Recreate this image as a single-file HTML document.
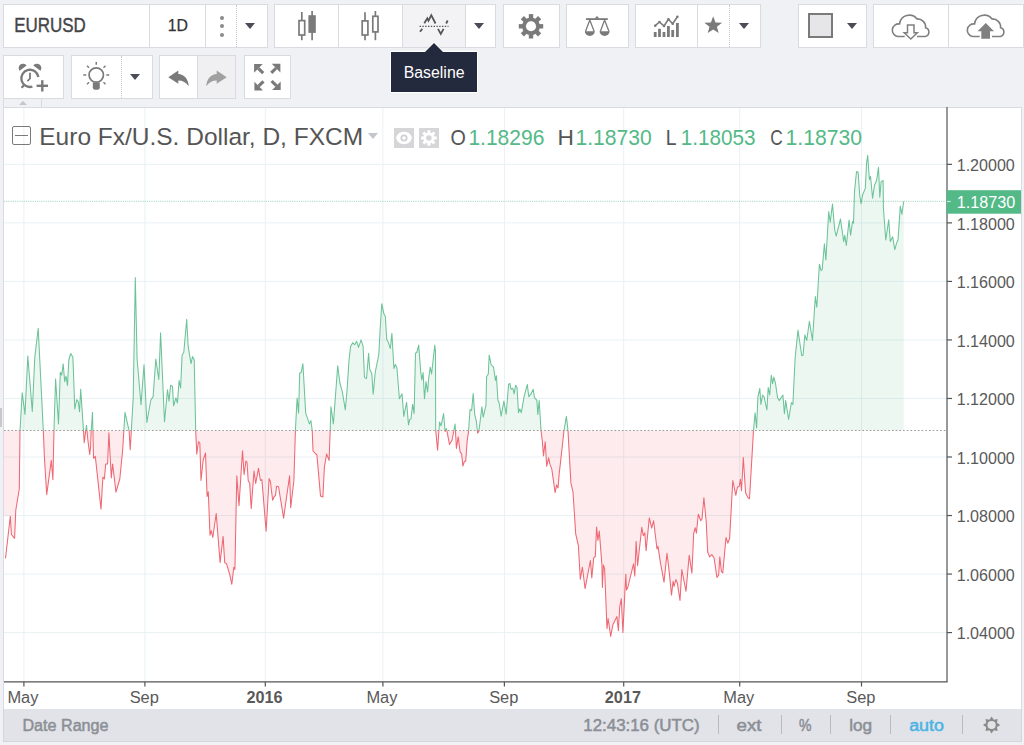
<!DOCTYPE html>
<html><head><meta charset="utf-8"><style>
html,body{margin:0;padding:0;}
body{width:1024px;height:745px;background:#f0f1f5;overflow:hidden;position:relative;font-family:"Liberation Sans",sans-serif;}
.b{position:absolute;background:#fff;border:1px solid #d9dbe0;box-sizing:border-box;}
.sep{position:absolute;top:0;bottom:0;width:1px;background:#d9dbe0;}
.dsep{position:absolute;top:0;bottom:0;width:0;border-left:1px dotted #c5c7cc;}
.tri{position:absolute;width:0;height:0;border-left:5.5px solid transparent;border-right:5.5px solid transparent;border-top:6px solid #4a4c57;}
</style></head><body>
<div class="b" style="left:3px;top:4px;width:265px;height:44px">
  <div class="sep" style="left:145px"></div>
  <div class="sep" style="left:201px"></div>
  <div style="position:absolute;left:216px;top:10.5px;width:4.2px;height:4.2px;border-radius:50%;background:#8a8a8a"></div>
  <div style="position:absolute;left:216px;top:19.3px;width:4.2px;height:4.2px;border-radius:50%;background:#8a8a8a"></div>
  <div style="position:absolute;left:216px;top:28.2px;width:4.2px;height:4.2px;border-radius:50%;background:#8a8a8a"></div>
  <div class="dsep" style="left:232px"></div>
  <div class="tri" style="left:241px;top:18px"></div>
</div>
<div class="b" style="left:274px;top:4px;width:222px;height:44px">
  <div class="sep" style="left:63px"></div>
  <div style="position:absolute;left:128px;top:0;width:63px;bottom:0;background:#f3f3f5"></div>
  <div class="sep" style="left:127px"></div>
  <div class="sep" style="left:190px"></div>
  <div class="tri" style="left:199px;top:18px"></div>
</div>
<div class="b" style="left:503px;top:4px;width:57px;height:44px"></div>
<div class="b" style="left:566px;top:4px;width:63px;height:44px"></div>
<div class="b" style="left:635px;top:4px;width:126px;height:44px">
  <div class="sep" style="left:61px"></div>
  <div class="dsep" style="left:93px"></div>
  <div class="tri" style="left:102.5px;top:18px"></div>
</div>
<div class="b" style="left:798px;top:4px;width:69px;height:44px">
  <div style="position:absolute;left:9px;top:8px;width:25px;height:25px;box-sizing:border-box;border:2px solid #7a7a7a;background:#e6e6e8"></div>
  <div class="tri" style="left:48px;top:18px"></div>
</div>
<div class="b" style="left:873px;top:4px;width:151px;height:44px">
  <div class="sep" style="left:74px"></div>
</div>
<div class="b" style="left:3px;top:55px;width:61px;height:44px"></div>
<div class="b" style="left:71px;top:55px;width:82px;height:44px">
  <div class="dsep" style="left:49px"></div>
  <div class="tri" style="left:58px;top:18px"></div>
</div>
<div class="b" style="left:159px;top:55px;width:77px;height:44px">
  <div style="position:absolute;left:38px;top:0;right:0;bottom:0;background:#f0f0f2"></div>
  <div class="sep" style="left:37px"></div>
</div>
<div class="b" style="left:244px;top:55px;width:47px;height:44px"></div>
<div style="position:absolute;left:3px;top:98px;width:1px;height:10px;background:#d9dbe0"></div>
<div style="position:absolute;left:41px;top:98px;width:1px;height:9px;background:#d9dbe0"></div>
<div style="position:absolute;left:19px;top:101px;width:0;height:0;border-left:4px solid transparent;border-right:4px solid transparent;border-bottom:4px solid #c4c6cb"></div>
<div style="position:absolute;left:3px;top:107px;width:1019px;height:602px;background:#fff;border-left:1px solid #d9dbe0;border-top:1px solid #d9dbe0;border-right:1px solid #d9dbe0;box-sizing:border-box"></div>
<div style="position:absolute;left:0;top:408px;width:2px;height:19px;background:#c8c8c8"></div>
<div style="position:absolute;left:3px;top:709px;width:1019px;height:33px;background:#e2e3e8;border-left:1px solid #d4d6db;border-bottom:1px solid #d4d6db;border-right:1px solid #d4d6db;box-sizing:border-box">
  <div class="sep" style="left:714px;top:6px;bottom:7px;background:#b8bac0"></div>
  <div class="sep" style="left:777px;top:6px;bottom:7px;background:#b8bac0"></div>
  <div class="sep" style="left:826px;top:6px;bottom:7px;background:#b8bac0"></div>
  <div class="sep" style="left:886px;top:6px;bottom:7px;background:#b8bac0"></div>
  <div class="sep" style="left:958px;top:6px;bottom:7px;background:#b8bac0"></div>
</div>
<svg width="1024" height="745" style="position:absolute;left:0;top:0">
<defs><clipPath id="up"><rect x="0" y="0" width="947" height="430.5"/></clipPath><clipPath id="dn"><rect x="0" y="430.5" width="947" height="400"/></clipPath></defs>
<line x1="4" x2="947" y1="164.35" y2="164.35" stroke="#e9f1f4" stroke-width="1"/>
<line x1="4" x2="947" y1="222.88" y2="222.88" stroke="#e9f1f4" stroke-width="1"/>
<line x1="4" x2="947" y1="281.41" y2="281.41" stroke="#e9f1f4" stroke-width="1"/>
<line x1="4" x2="947" y1="339.94" y2="339.94" stroke="#e9f1f4" stroke-width="1"/>
<line x1="4" x2="947" y1="398.47" y2="398.47" stroke="#e9f1f4" stroke-width="1"/>
<line x1="4" x2="947" y1="457.00" y2="457.00" stroke="#e9f1f4" stroke-width="1"/>
<line x1="4" x2="947" y1="515.53" y2="515.53" stroke="#e9f1f4" stroke-width="1"/>
<line x1="4" x2="947" y1="574.06" y2="574.06" stroke="#e9f1f4" stroke-width="1"/>
<line x1="4" x2="947" y1="632.59" y2="632.59" stroke="#e9f1f4" stroke-width="1"/>
<line x1="23.9" x2="23.9" y1="108" y2="682" stroke="#e9f1f4" stroke-width="1"/>
<line x1="144.9" x2="144.9" y1="108" y2="682" stroke="#e9f1f4" stroke-width="1"/>
<line x1="265.3" x2="265.3" y1="108" y2="682" stroke="#e9f1f4" stroke-width="1"/>
<line x1="382.9" x2="382.9" y1="108" y2="682" stroke="#e9f1f4" stroke-width="1"/>
<line x1="504.4" x2="504.4" y1="108" y2="682" stroke="#e9f1f4" stroke-width="1"/>
<line x1="623.7" x2="623.7" y1="108" y2="682" stroke="#e9f1f4" stroke-width="1"/>
<line x1="739.7" x2="739.7" y1="108" y2="682" stroke="#e9f1f4" stroke-width="1"/>
<line x1="861.5" x2="861.5" y1="108" y2="682" stroke="#e9f1f4" stroke-width="1"/>
<path d="M4 430.5 L4 516.2 L10.3 516.2 L11.4 534.5 L14.6 538.3 L15.8 510 L19.3 489 L20 430.8 L22.2 392.7 L25 414.4 L27.8 356 L32.3 411.6 L34.8 357 L38.2 328.2 L43.3 430.4 L44.4 457 L46.7 494.6 L51.3 460.4 L52.9 479.8 L54 429.6 L55.6 378.9 L58.5 424 L60.3 372.3 L61.7 375.1 L63.2 363.9 L64.7 381.7 L66 376 L67.5 385.5 L68.8 360 L70.7 353.5 L72.9 357.3 L74.8 409 L76.7 399.6 L78.2 401.5 L79.5 411.8 L80.7 389.2 L83.5 430.6 L84.2 442.8 L86.5 425.4 L87.8 439.5 L89.7 454.5 L90.6 447 L91.2 431 L92.5 412.2 L93.5 458.3 L95.3 456.4 L101 509.1 L102.9 477.1 L104.4 479 L105.7 464 L107.6 464 L108.9 432.9 L111.3 478 L112.6 464 L116 492.2 L119.8 479 L122.6 450.8 L125 412.4 L129.1 430.8 L130.2 449.8 L131.4 429.7 L133.2 397.8 L135.3 277.5 L137.1 359 L141 404.6 L144 364.7 L146.9 422.4 L150.8 400 L153.1 396.6 L155.8 359 L158.8 379.5 L160.6 332.7 L164.5 421.7 L167.5 389.8 L169 401.2 L170.6 385.2 L172.5 386.4 L173.6 405.8 L175.9 397.8 L177.4 403 L179.1 380.5 L180.6 388 L182.1 355.1 L183.8 352.3 L186.7 319.4 L188.2 346.7 L191 363.6 L192.5 356.6 L194.2 359.8 L195.7 430.4 L196.8 454.2 L198.4 441.7 L199.8 442.8 L201 480.5 L203.2 460 L205.5 453.1 L207.1 496.4 L208.3 491.9 L210 535.2 L211.2 530.7 L212.8 537.5 L216.2 513.5 L220.1 562.6 L223.1 536.4 L224.7 562.6 L226.5 563.7 L229.9 575.1 L231.8 584.3 L233.8 567.2 L234.9 569.4 L236.8 475.9 L239 505.6 L242.5 450.8 L244.1 474.8 L245.9 461 L247 462.2 L248.2 480.5 L249.7 483.4 L251.2 508.7 L254 471.1 L255.7 483.4 L258.5 468.3 L260.4 480.5 L261.9 479.6 L266.1 531.3 L269.1 478.6 L270.4 481.5 L272.6 500.3 L274.2 496.5 L275.5 495.6 L276.6 486.2 L278.5 486.7 L283.6 518.1 L289.6 475.8 L290.7 507.8 L293.9 480.5 L295.4 430.5 L297.1 398.1 L298.6 413.1 L299.7 373.3 L301.2 372.3 L302.9 363.7 L305.7 413.1 L309.4 423.9 L310.9 420.6 L312.2 430.3 L313 450.8 L315.8 454 L316.9 455 L320.5 495.9 L322.9 497 L324.4 466.9 L326.6 454 L329.1 460.4 L330.2 430.3 L330.9 406.7 L333.4 423.9 L337.7 365.8 L339.9 383 L342.3 391.6 L345.3 409.9 L347 390.7 L349 360.5 L350.6 346.4 L352.7 342.7 L354.7 344.8 L356.7 341.3 L358.5 347.4 L361.1 339.9 L363.1 346.4 L364.5 377.6 L366.5 378.6 L368.6 353.4 L369.8 369.5 L371.8 373.6 L373.2 394.3 L375.2 372.5 L378.8 354.4 L380.2 328.3 L381.8 303.7 L383.9 313.8 L385.3 316.2 L386.7 339.3 L388.3 342.3 L390.3 348.4 L391.9 333.3 L393.9 368.5 L395.3 364.5 L396.9 367.5 L399.4 398.7 L402 393.7 L403.8 416.4 L406.6 402.3 L408.5 424.9 L409.8 419.2 L411 419 L412.6 404.2 L414.1 413.6 L415.5 353.2 L416.8 352.5 L418.7 345.1 L420.8 372.6 L421.8 380 L423.1 372.6 L424.5 398.6 L426 381.6 L427.6 392 L428.5 380 L430.2 367.2 L431.6 374 L434.8 345.1 L435.5 352 L435.7 430.5 L437.6 450.3 L439.5 422 L441 425.8 L443.6 413.6 L445.1 431.5 L446.5 428.6 L449.5 444.6 L452.1 440 L455.1 424 L456.4 448.4 L458.2 436.9 L460.1 451.9 L461.6 453.8 L462.9 466 L464.4 461.3 L465.7 461.3 L467.2 440.6 L468.5 432.2 L470 409.6 L471.6 410.5 L473.2 393.6 L474.7 414.3 L476.3 420.9 L477.6 433.1 L478.9 431.2 L481.9 406.8 L483.2 417.1 L486 404.9 L486.6 376.7 L488.3 373.9 L489.2 355 L491.1 364.5 L493.6 367.3 L495.4 380.4 L496.4 375.7 L497.9 400.2 L499.2 403 L501.1 416.2 L503.9 401.1 L506.2 414.3 L508.6 384.2 L510 383.5 L510.9 389.2 L512.8 388.2 L514.1 393.9 L515.6 385.4 L517 387.3 L518.5 412.7 L519.8 408.9 L521.3 412.7 L524.1 396.7 L527.3 384.5 L528.8 396.7 L531.1 393.9 L533.1 389.2 L534.5 397.6 L536.9 400.4 L537.8 414.5 L539.2 400.4 L541 430.5 L542.3 440.9 L543.5 455.9 L545.2 441.8 L546.7 466.3 L548.6 457.8 L550 464.4 L551.8 469.1 L555.1 492.6 L556.6 485.1 L558 487.9 L559.3 472.8 L560.4 463.4 L564 430.5 L566.4 416.4 L568 430.5 L569 449.4 L570.9 482.9 L573 492.2 L575.7 533.8 L578.4 545.8 L580.3 579.3 L582.4 567.2 L585.1 588.7 L590.4 560.5 L591.8 578 L593.7 557.9 L595.3 556.5 L596.6 527.1 L597.9 540.5 L599.3 531.1 L601.9 564.9 L602.4 587.5 L603.4 564.9 L604.6 568.6 L607 628.8 L608.1 618.5 L610.7 636.4 L612.8 625.1 L616.9 616.6 L618.4 630.7 L619.7 607.2 L621.3 598.7 L622.9 632.6 L624.8 593.1 L625.8 574.3 L626.5 590 L627.8 587.5 L633.5 563.9 L634.8 576.2 L636.1 541.4 L637.6 565.8 L641.8 527.3 L643.3 535.7 L644.8 532.9 L646.1 550.8 L649.3 517.9 L651.7 528.2 L653.6 520.7 L657 549 L658 546.3 L660.2 561.3 L664 582.2 L667 553.3 L669.3 572.6 L671.5 595.1 L673.1 581.2 L674.1 586.5 L675.8 579.5 L677.4 583.3 L680 600.5 L681.8 569.5 L686 591.3 L689.2 555.3 L691.9 573.2 L693.7 533.5 L695.2 527.7 L696.4 533.2 L698.3 514.2 L700.7 520.8 L702 518.9 L703.9 497.8 L706.2 521.7 L707.7 552.3 L709.6 556.9 L711.8 554.6 L714.1 558 L716.9 577.4 L718.7 575.1 L719.8 556.9 L721.4 571.7 L722.8 572.9 L726 537.5 L727.8 543.2 L729.6 538.6 L732.8 480.5 L735.8 495.3 L737.4 487.3 L739.2 486.2 L740.4 479.3 L741.5 490.7 L743.3 457.6 L745.6 493 L747.9 497.6 L749.5 498.7 L753.5 430.5 L755.1 412.8 L756.6 427.9 L757.9 396.9 L759.8 388.4 L760.9 404.4 L762.6 395 L764.1 396.9 L766.9 410 L768.2 387.5 L769.7 395 L771.3 375.2 L772.6 383.7 L773.9 377.1 L775.4 382.8 L777.6 397.8 L779.2 400.6 L782.9 395 L784.4 413.8 L785.7 400.6 L788.6 419.4 L791.4 402.5 L792.9 404.4 L795.1 358.3 L798 330.1 L801.7 355.5 L803 355.5 L804.9 334.8 L806.7 340.5 L809.4 321.4 L812.5 340.5 L815.3 296.5 L816.8 307.2 L819.4 264.2 L821.1 270.6 L822.2 269.5 L824.4 243.8 L825.9 259.9 L828.7 211.5 L830.2 222.3 L832.5 204 L834.7 229.8 L836.2 236.2 L840.5 219 L843.7 241.6 L844.8 235.2 L846.3 245.5 L849.1 220.1 L850.6 235.2 L852.5 221.5 L853.5 223.1 L854.5 191.6 L856.5 171.5 L858.1 172.3 L859.7 194.8 L861 203.7 L862.6 194.8 L865.3 188.4 L866.6 162.6 L867.7 155.3 L869.4 179.5 L870.5 176.3 L872.6 198.1 L874.5 185.2 L876.6 180.3 L878.5 167.4 L879.8 197.3 L881.1 181.9 L883.1 180.3 L883.4 207.7 L885.8 240 L888.7 219.8 L890.3 241.6 L892.7 236.8 L894.8 249.7 L896.8 242.4 L898 240 L900.3 206.1 L901.9 214.2 L903.7 201.3 L903.7 430.5 Z" fill="rgba(83,185,135,0.11)" clip-path="url(#up)"/>
<path d="M4 430.5 L4 516.2 L10.3 516.2 L11.4 534.5 L14.6 538.3 L15.8 510 L19.3 489 L20 430.8 L22.2 392.7 L25 414.4 L27.8 356 L32.3 411.6 L34.8 357 L38.2 328.2 L43.3 430.4 L44.4 457 L46.7 494.6 L51.3 460.4 L52.9 479.8 L54 429.6 L55.6 378.9 L58.5 424 L60.3 372.3 L61.7 375.1 L63.2 363.9 L64.7 381.7 L66 376 L67.5 385.5 L68.8 360 L70.7 353.5 L72.9 357.3 L74.8 409 L76.7 399.6 L78.2 401.5 L79.5 411.8 L80.7 389.2 L83.5 430.6 L84.2 442.8 L86.5 425.4 L87.8 439.5 L89.7 454.5 L90.6 447 L91.2 431 L92.5 412.2 L93.5 458.3 L95.3 456.4 L101 509.1 L102.9 477.1 L104.4 479 L105.7 464 L107.6 464 L108.9 432.9 L111.3 478 L112.6 464 L116 492.2 L119.8 479 L122.6 450.8 L125 412.4 L129.1 430.8 L130.2 449.8 L131.4 429.7 L133.2 397.8 L135.3 277.5 L137.1 359 L141 404.6 L144 364.7 L146.9 422.4 L150.8 400 L153.1 396.6 L155.8 359 L158.8 379.5 L160.6 332.7 L164.5 421.7 L167.5 389.8 L169 401.2 L170.6 385.2 L172.5 386.4 L173.6 405.8 L175.9 397.8 L177.4 403 L179.1 380.5 L180.6 388 L182.1 355.1 L183.8 352.3 L186.7 319.4 L188.2 346.7 L191 363.6 L192.5 356.6 L194.2 359.8 L195.7 430.4 L196.8 454.2 L198.4 441.7 L199.8 442.8 L201 480.5 L203.2 460 L205.5 453.1 L207.1 496.4 L208.3 491.9 L210 535.2 L211.2 530.7 L212.8 537.5 L216.2 513.5 L220.1 562.6 L223.1 536.4 L224.7 562.6 L226.5 563.7 L229.9 575.1 L231.8 584.3 L233.8 567.2 L234.9 569.4 L236.8 475.9 L239 505.6 L242.5 450.8 L244.1 474.8 L245.9 461 L247 462.2 L248.2 480.5 L249.7 483.4 L251.2 508.7 L254 471.1 L255.7 483.4 L258.5 468.3 L260.4 480.5 L261.9 479.6 L266.1 531.3 L269.1 478.6 L270.4 481.5 L272.6 500.3 L274.2 496.5 L275.5 495.6 L276.6 486.2 L278.5 486.7 L283.6 518.1 L289.6 475.8 L290.7 507.8 L293.9 480.5 L295.4 430.5 L297.1 398.1 L298.6 413.1 L299.7 373.3 L301.2 372.3 L302.9 363.7 L305.7 413.1 L309.4 423.9 L310.9 420.6 L312.2 430.3 L313 450.8 L315.8 454 L316.9 455 L320.5 495.9 L322.9 497 L324.4 466.9 L326.6 454 L329.1 460.4 L330.2 430.3 L330.9 406.7 L333.4 423.9 L337.7 365.8 L339.9 383 L342.3 391.6 L345.3 409.9 L347 390.7 L349 360.5 L350.6 346.4 L352.7 342.7 L354.7 344.8 L356.7 341.3 L358.5 347.4 L361.1 339.9 L363.1 346.4 L364.5 377.6 L366.5 378.6 L368.6 353.4 L369.8 369.5 L371.8 373.6 L373.2 394.3 L375.2 372.5 L378.8 354.4 L380.2 328.3 L381.8 303.7 L383.9 313.8 L385.3 316.2 L386.7 339.3 L388.3 342.3 L390.3 348.4 L391.9 333.3 L393.9 368.5 L395.3 364.5 L396.9 367.5 L399.4 398.7 L402 393.7 L403.8 416.4 L406.6 402.3 L408.5 424.9 L409.8 419.2 L411 419 L412.6 404.2 L414.1 413.6 L415.5 353.2 L416.8 352.5 L418.7 345.1 L420.8 372.6 L421.8 380 L423.1 372.6 L424.5 398.6 L426 381.6 L427.6 392 L428.5 380 L430.2 367.2 L431.6 374 L434.8 345.1 L435.5 352 L435.7 430.5 L437.6 450.3 L439.5 422 L441 425.8 L443.6 413.6 L445.1 431.5 L446.5 428.6 L449.5 444.6 L452.1 440 L455.1 424 L456.4 448.4 L458.2 436.9 L460.1 451.9 L461.6 453.8 L462.9 466 L464.4 461.3 L465.7 461.3 L467.2 440.6 L468.5 432.2 L470 409.6 L471.6 410.5 L473.2 393.6 L474.7 414.3 L476.3 420.9 L477.6 433.1 L478.9 431.2 L481.9 406.8 L483.2 417.1 L486 404.9 L486.6 376.7 L488.3 373.9 L489.2 355 L491.1 364.5 L493.6 367.3 L495.4 380.4 L496.4 375.7 L497.9 400.2 L499.2 403 L501.1 416.2 L503.9 401.1 L506.2 414.3 L508.6 384.2 L510 383.5 L510.9 389.2 L512.8 388.2 L514.1 393.9 L515.6 385.4 L517 387.3 L518.5 412.7 L519.8 408.9 L521.3 412.7 L524.1 396.7 L527.3 384.5 L528.8 396.7 L531.1 393.9 L533.1 389.2 L534.5 397.6 L536.9 400.4 L537.8 414.5 L539.2 400.4 L541 430.5 L542.3 440.9 L543.5 455.9 L545.2 441.8 L546.7 466.3 L548.6 457.8 L550 464.4 L551.8 469.1 L555.1 492.6 L556.6 485.1 L558 487.9 L559.3 472.8 L560.4 463.4 L564 430.5 L566.4 416.4 L568 430.5 L569 449.4 L570.9 482.9 L573 492.2 L575.7 533.8 L578.4 545.8 L580.3 579.3 L582.4 567.2 L585.1 588.7 L590.4 560.5 L591.8 578 L593.7 557.9 L595.3 556.5 L596.6 527.1 L597.9 540.5 L599.3 531.1 L601.9 564.9 L602.4 587.5 L603.4 564.9 L604.6 568.6 L607 628.8 L608.1 618.5 L610.7 636.4 L612.8 625.1 L616.9 616.6 L618.4 630.7 L619.7 607.2 L621.3 598.7 L622.9 632.6 L624.8 593.1 L625.8 574.3 L626.5 590 L627.8 587.5 L633.5 563.9 L634.8 576.2 L636.1 541.4 L637.6 565.8 L641.8 527.3 L643.3 535.7 L644.8 532.9 L646.1 550.8 L649.3 517.9 L651.7 528.2 L653.6 520.7 L657 549 L658 546.3 L660.2 561.3 L664 582.2 L667 553.3 L669.3 572.6 L671.5 595.1 L673.1 581.2 L674.1 586.5 L675.8 579.5 L677.4 583.3 L680 600.5 L681.8 569.5 L686 591.3 L689.2 555.3 L691.9 573.2 L693.7 533.5 L695.2 527.7 L696.4 533.2 L698.3 514.2 L700.7 520.8 L702 518.9 L703.9 497.8 L706.2 521.7 L707.7 552.3 L709.6 556.9 L711.8 554.6 L714.1 558 L716.9 577.4 L718.7 575.1 L719.8 556.9 L721.4 571.7 L722.8 572.9 L726 537.5 L727.8 543.2 L729.6 538.6 L732.8 480.5 L735.8 495.3 L737.4 487.3 L739.2 486.2 L740.4 479.3 L741.5 490.7 L743.3 457.6 L745.6 493 L747.9 497.6 L749.5 498.7 L753.5 430.5 L755.1 412.8 L756.6 427.9 L757.9 396.9 L759.8 388.4 L760.9 404.4 L762.6 395 L764.1 396.9 L766.9 410 L768.2 387.5 L769.7 395 L771.3 375.2 L772.6 383.7 L773.9 377.1 L775.4 382.8 L777.6 397.8 L779.2 400.6 L782.9 395 L784.4 413.8 L785.7 400.6 L788.6 419.4 L791.4 402.5 L792.9 404.4 L795.1 358.3 L798 330.1 L801.7 355.5 L803 355.5 L804.9 334.8 L806.7 340.5 L809.4 321.4 L812.5 340.5 L815.3 296.5 L816.8 307.2 L819.4 264.2 L821.1 270.6 L822.2 269.5 L824.4 243.8 L825.9 259.9 L828.7 211.5 L830.2 222.3 L832.5 204 L834.7 229.8 L836.2 236.2 L840.5 219 L843.7 241.6 L844.8 235.2 L846.3 245.5 L849.1 220.1 L850.6 235.2 L852.5 221.5 L853.5 223.1 L854.5 191.6 L856.5 171.5 L858.1 172.3 L859.7 194.8 L861 203.7 L862.6 194.8 L865.3 188.4 L866.6 162.6 L867.7 155.3 L869.4 179.5 L870.5 176.3 L872.6 198.1 L874.5 185.2 L876.6 180.3 L878.5 167.4 L879.8 197.3 L881.1 181.9 L883.1 180.3 L883.4 207.7 L885.8 240 L888.7 219.8 L890.3 241.6 L892.7 236.8 L894.8 249.7 L896.8 242.4 L898 240 L900.3 206.1 L901.9 214.2 L903.7 201.3 L903.7 430.5 Z" fill="rgba(235,77,92,0.11)" clip-path="url(#dn)"/>
<line x1="4" x2="947" y1="430.5" y2="430.5" stroke="#999" stroke-width="1" stroke-dasharray="1.6 2.1"/>
<line x1="4" x2="945" y1="201.3" y2="201.3" stroke="#53b987" stroke-width="1" stroke-dasharray="1.1 1.1" opacity="0.55"/>
<path d="M5.5 558.4 L10.3 516.2 L11.4 534.5 L14.6 538.3 L15.8 510 L19.3 489 L20 430.8 L22.2 392.7 L25 414.4 L27.8 356 L32.3 411.6 L34.8 357 L38.2 328.2 L43.3 430.4 L44.4 457 L46.7 494.6 L51.3 460.4 L52.9 479.8 L54 429.6 L55.6 378.9 L58.5 424 L60.3 372.3 L61.7 375.1 L63.2 363.9 L64.7 381.7 L66 376 L67.5 385.5 L68.8 360 L70.7 353.5 L72.9 357.3 L74.8 409 L76.7 399.6 L78.2 401.5 L79.5 411.8 L80.7 389.2 L83.5 430.6 L84.2 442.8 L86.5 425.4 L87.8 439.5 L89.7 454.5 L90.6 447 L91.2 431 L92.5 412.2 L93.5 458.3 L95.3 456.4 L101 509.1 L102.9 477.1 L104.4 479 L105.7 464 L107.6 464 L108.9 432.9 L111.3 478 L112.6 464 L116 492.2 L119.8 479 L122.6 450.8 L125 412.4 L129.1 430.8 L130.2 449.8 L131.4 429.7 L133.2 397.8 L135.3 277.5 L137.1 359 L141 404.6 L144 364.7 L146.9 422.4 L150.8 400 L153.1 396.6 L155.8 359 L158.8 379.5 L160.6 332.7 L164.5 421.7 L167.5 389.8 L169 401.2 L170.6 385.2 L172.5 386.4 L173.6 405.8 L175.9 397.8 L177.4 403 L179.1 380.5 L180.6 388 L182.1 355.1 L183.8 352.3 L186.7 319.4 L188.2 346.7 L191 363.6 L192.5 356.6 L194.2 359.8 L195.7 430.4 L196.8 454.2 L198.4 441.7 L199.8 442.8 L201 480.5 L203.2 460 L205.5 453.1 L207.1 496.4 L208.3 491.9 L210 535.2 L211.2 530.7 L212.8 537.5 L216.2 513.5 L220.1 562.6 L223.1 536.4 L224.7 562.6 L226.5 563.7 L229.9 575.1 L231.8 584.3 L233.8 567.2 L234.9 569.4 L236.8 475.9 L239 505.6 L242.5 450.8 L244.1 474.8 L245.9 461 L247 462.2 L248.2 480.5 L249.7 483.4 L251.2 508.7 L254 471.1 L255.7 483.4 L258.5 468.3 L260.4 480.5 L261.9 479.6 L266.1 531.3 L269.1 478.6 L270.4 481.5 L272.6 500.3 L274.2 496.5 L275.5 495.6 L276.6 486.2 L278.5 486.7 L283.6 518.1 L289.6 475.8 L290.7 507.8 L293.9 480.5 L295.4 430.5 L297.1 398.1 L298.6 413.1 L299.7 373.3 L301.2 372.3 L302.9 363.7 L305.7 413.1 L309.4 423.9 L310.9 420.6 L312.2 430.3 L313 450.8 L315.8 454 L316.9 455 L320.5 495.9 L322.9 497 L324.4 466.9 L326.6 454 L329.1 460.4 L330.2 430.3 L330.9 406.7 L333.4 423.9 L337.7 365.8 L339.9 383 L342.3 391.6 L345.3 409.9 L347 390.7 L349 360.5 L350.6 346.4 L352.7 342.7 L354.7 344.8 L356.7 341.3 L358.5 347.4 L361.1 339.9 L363.1 346.4 L364.5 377.6 L366.5 378.6 L368.6 353.4 L369.8 369.5 L371.8 373.6 L373.2 394.3 L375.2 372.5 L378.8 354.4 L380.2 328.3 L381.8 303.7 L383.9 313.8 L385.3 316.2 L386.7 339.3 L388.3 342.3 L390.3 348.4 L391.9 333.3 L393.9 368.5 L395.3 364.5 L396.9 367.5 L399.4 398.7 L402 393.7 L403.8 416.4 L406.6 402.3 L408.5 424.9 L409.8 419.2 L411 419 L412.6 404.2 L414.1 413.6 L415.5 353.2 L416.8 352.5 L418.7 345.1 L420.8 372.6 L421.8 380 L423.1 372.6 L424.5 398.6 L426 381.6 L427.6 392 L428.5 380 L430.2 367.2 L431.6 374 L434.8 345.1 L435.5 352 L435.7 430.5 L437.6 450.3 L439.5 422 L441 425.8 L443.6 413.6 L445.1 431.5 L446.5 428.6 L449.5 444.6 L452.1 440 L455.1 424 L456.4 448.4 L458.2 436.9 L460.1 451.9 L461.6 453.8 L462.9 466 L464.4 461.3 L465.7 461.3 L467.2 440.6 L468.5 432.2 L470 409.6 L471.6 410.5 L473.2 393.6 L474.7 414.3 L476.3 420.9 L477.6 433.1 L478.9 431.2 L481.9 406.8 L483.2 417.1 L486 404.9 L486.6 376.7 L488.3 373.9 L489.2 355 L491.1 364.5 L493.6 367.3 L495.4 380.4 L496.4 375.7 L497.9 400.2 L499.2 403 L501.1 416.2 L503.9 401.1 L506.2 414.3 L508.6 384.2 L510 383.5 L510.9 389.2 L512.8 388.2 L514.1 393.9 L515.6 385.4 L517 387.3 L518.5 412.7 L519.8 408.9 L521.3 412.7 L524.1 396.7 L527.3 384.5 L528.8 396.7 L531.1 393.9 L533.1 389.2 L534.5 397.6 L536.9 400.4 L537.8 414.5 L539.2 400.4 L541 430.5 L542.3 440.9 L543.5 455.9 L545.2 441.8 L546.7 466.3 L548.6 457.8 L550 464.4 L551.8 469.1 L555.1 492.6 L556.6 485.1 L558 487.9 L559.3 472.8 L560.4 463.4 L564 430.5 L566.4 416.4 L568 430.5 L569 449.4 L570.9 482.9 L573 492.2 L575.7 533.8 L578.4 545.8 L580.3 579.3 L582.4 567.2 L585.1 588.7 L590.4 560.5 L591.8 578 L593.7 557.9 L595.3 556.5 L596.6 527.1 L597.9 540.5 L599.3 531.1 L601.9 564.9 L602.4 587.5 L603.4 564.9 L604.6 568.6 L607 628.8 L608.1 618.5 L610.7 636.4 L612.8 625.1 L616.9 616.6 L618.4 630.7 L619.7 607.2 L621.3 598.7 L622.9 632.6 L624.8 593.1 L625.8 574.3 L626.5 590 L627.8 587.5 L633.5 563.9 L634.8 576.2 L636.1 541.4 L637.6 565.8 L641.8 527.3 L643.3 535.7 L644.8 532.9 L646.1 550.8 L649.3 517.9 L651.7 528.2 L653.6 520.7 L657 549 L658 546.3 L660.2 561.3 L664 582.2 L667 553.3 L669.3 572.6 L671.5 595.1 L673.1 581.2 L674.1 586.5 L675.8 579.5 L677.4 583.3 L680 600.5 L681.8 569.5 L686 591.3 L689.2 555.3 L691.9 573.2 L693.7 533.5 L695.2 527.7 L696.4 533.2 L698.3 514.2 L700.7 520.8 L702 518.9 L703.9 497.8 L706.2 521.7 L707.7 552.3 L709.6 556.9 L711.8 554.6 L714.1 558 L716.9 577.4 L718.7 575.1 L719.8 556.9 L721.4 571.7 L722.8 572.9 L726 537.5 L727.8 543.2 L729.6 538.6 L732.8 480.5 L735.8 495.3 L737.4 487.3 L739.2 486.2 L740.4 479.3 L741.5 490.7 L743.3 457.6 L745.6 493 L747.9 497.6 L749.5 498.7 L753.5 430.5 L755.1 412.8 L756.6 427.9 L757.9 396.9 L759.8 388.4 L760.9 404.4 L762.6 395 L764.1 396.9 L766.9 410 L768.2 387.5 L769.7 395 L771.3 375.2 L772.6 383.7 L773.9 377.1 L775.4 382.8 L777.6 397.8 L779.2 400.6 L782.9 395 L784.4 413.8 L785.7 400.6 L788.6 419.4 L791.4 402.5 L792.9 404.4 L795.1 358.3 L798 330.1 L801.7 355.5 L803 355.5 L804.9 334.8 L806.7 340.5 L809.4 321.4 L812.5 340.5 L815.3 296.5 L816.8 307.2 L819.4 264.2 L821.1 270.6 L822.2 269.5 L824.4 243.8 L825.9 259.9 L828.7 211.5 L830.2 222.3 L832.5 204 L834.7 229.8 L836.2 236.2 L840.5 219 L843.7 241.6 L844.8 235.2 L846.3 245.5 L849.1 220.1 L850.6 235.2 L852.5 221.5 L853.5 223.1 L854.5 191.6 L856.5 171.5 L858.1 172.3 L859.7 194.8 L861 203.7 L862.6 194.8 L865.3 188.4 L866.6 162.6 L867.7 155.3 L869.4 179.5 L870.5 176.3 L872.6 198.1 L874.5 185.2 L876.6 180.3 L878.5 167.4 L879.8 197.3 L881.1 181.9 L883.1 180.3 L883.4 207.7 L885.8 240 L888.7 219.8 L890.3 241.6 L892.7 236.8 L894.8 249.7 L896.8 242.4 L898 240 L900.3 206.1 L901.9 214.2 L903.7 201.3" fill="none" stroke="#53b987" stroke-width="1.05" stroke-opacity="0.85" stroke-linejoin="round" clip-path="url(#up)"/>
<path d="M5.5 558.4 L10.3 516.2 L11.4 534.5 L14.6 538.3 L15.8 510 L19.3 489 L20 430.8 L22.2 392.7 L25 414.4 L27.8 356 L32.3 411.6 L34.8 357 L38.2 328.2 L43.3 430.4 L44.4 457 L46.7 494.6 L51.3 460.4 L52.9 479.8 L54 429.6 L55.6 378.9 L58.5 424 L60.3 372.3 L61.7 375.1 L63.2 363.9 L64.7 381.7 L66 376 L67.5 385.5 L68.8 360 L70.7 353.5 L72.9 357.3 L74.8 409 L76.7 399.6 L78.2 401.5 L79.5 411.8 L80.7 389.2 L83.5 430.6 L84.2 442.8 L86.5 425.4 L87.8 439.5 L89.7 454.5 L90.6 447 L91.2 431 L92.5 412.2 L93.5 458.3 L95.3 456.4 L101 509.1 L102.9 477.1 L104.4 479 L105.7 464 L107.6 464 L108.9 432.9 L111.3 478 L112.6 464 L116 492.2 L119.8 479 L122.6 450.8 L125 412.4 L129.1 430.8 L130.2 449.8 L131.4 429.7 L133.2 397.8 L135.3 277.5 L137.1 359 L141 404.6 L144 364.7 L146.9 422.4 L150.8 400 L153.1 396.6 L155.8 359 L158.8 379.5 L160.6 332.7 L164.5 421.7 L167.5 389.8 L169 401.2 L170.6 385.2 L172.5 386.4 L173.6 405.8 L175.9 397.8 L177.4 403 L179.1 380.5 L180.6 388 L182.1 355.1 L183.8 352.3 L186.7 319.4 L188.2 346.7 L191 363.6 L192.5 356.6 L194.2 359.8 L195.7 430.4 L196.8 454.2 L198.4 441.7 L199.8 442.8 L201 480.5 L203.2 460 L205.5 453.1 L207.1 496.4 L208.3 491.9 L210 535.2 L211.2 530.7 L212.8 537.5 L216.2 513.5 L220.1 562.6 L223.1 536.4 L224.7 562.6 L226.5 563.7 L229.9 575.1 L231.8 584.3 L233.8 567.2 L234.9 569.4 L236.8 475.9 L239 505.6 L242.5 450.8 L244.1 474.8 L245.9 461 L247 462.2 L248.2 480.5 L249.7 483.4 L251.2 508.7 L254 471.1 L255.7 483.4 L258.5 468.3 L260.4 480.5 L261.9 479.6 L266.1 531.3 L269.1 478.6 L270.4 481.5 L272.6 500.3 L274.2 496.5 L275.5 495.6 L276.6 486.2 L278.5 486.7 L283.6 518.1 L289.6 475.8 L290.7 507.8 L293.9 480.5 L295.4 430.5 L297.1 398.1 L298.6 413.1 L299.7 373.3 L301.2 372.3 L302.9 363.7 L305.7 413.1 L309.4 423.9 L310.9 420.6 L312.2 430.3 L313 450.8 L315.8 454 L316.9 455 L320.5 495.9 L322.9 497 L324.4 466.9 L326.6 454 L329.1 460.4 L330.2 430.3 L330.9 406.7 L333.4 423.9 L337.7 365.8 L339.9 383 L342.3 391.6 L345.3 409.9 L347 390.7 L349 360.5 L350.6 346.4 L352.7 342.7 L354.7 344.8 L356.7 341.3 L358.5 347.4 L361.1 339.9 L363.1 346.4 L364.5 377.6 L366.5 378.6 L368.6 353.4 L369.8 369.5 L371.8 373.6 L373.2 394.3 L375.2 372.5 L378.8 354.4 L380.2 328.3 L381.8 303.7 L383.9 313.8 L385.3 316.2 L386.7 339.3 L388.3 342.3 L390.3 348.4 L391.9 333.3 L393.9 368.5 L395.3 364.5 L396.9 367.5 L399.4 398.7 L402 393.7 L403.8 416.4 L406.6 402.3 L408.5 424.9 L409.8 419.2 L411 419 L412.6 404.2 L414.1 413.6 L415.5 353.2 L416.8 352.5 L418.7 345.1 L420.8 372.6 L421.8 380 L423.1 372.6 L424.5 398.6 L426 381.6 L427.6 392 L428.5 380 L430.2 367.2 L431.6 374 L434.8 345.1 L435.5 352 L435.7 430.5 L437.6 450.3 L439.5 422 L441 425.8 L443.6 413.6 L445.1 431.5 L446.5 428.6 L449.5 444.6 L452.1 440 L455.1 424 L456.4 448.4 L458.2 436.9 L460.1 451.9 L461.6 453.8 L462.9 466 L464.4 461.3 L465.7 461.3 L467.2 440.6 L468.5 432.2 L470 409.6 L471.6 410.5 L473.2 393.6 L474.7 414.3 L476.3 420.9 L477.6 433.1 L478.9 431.2 L481.9 406.8 L483.2 417.1 L486 404.9 L486.6 376.7 L488.3 373.9 L489.2 355 L491.1 364.5 L493.6 367.3 L495.4 380.4 L496.4 375.7 L497.9 400.2 L499.2 403 L501.1 416.2 L503.9 401.1 L506.2 414.3 L508.6 384.2 L510 383.5 L510.9 389.2 L512.8 388.2 L514.1 393.9 L515.6 385.4 L517 387.3 L518.5 412.7 L519.8 408.9 L521.3 412.7 L524.1 396.7 L527.3 384.5 L528.8 396.7 L531.1 393.9 L533.1 389.2 L534.5 397.6 L536.9 400.4 L537.8 414.5 L539.2 400.4 L541 430.5 L542.3 440.9 L543.5 455.9 L545.2 441.8 L546.7 466.3 L548.6 457.8 L550 464.4 L551.8 469.1 L555.1 492.6 L556.6 485.1 L558 487.9 L559.3 472.8 L560.4 463.4 L564 430.5 L566.4 416.4 L568 430.5 L569 449.4 L570.9 482.9 L573 492.2 L575.7 533.8 L578.4 545.8 L580.3 579.3 L582.4 567.2 L585.1 588.7 L590.4 560.5 L591.8 578 L593.7 557.9 L595.3 556.5 L596.6 527.1 L597.9 540.5 L599.3 531.1 L601.9 564.9 L602.4 587.5 L603.4 564.9 L604.6 568.6 L607 628.8 L608.1 618.5 L610.7 636.4 L612.8 625.1 L616.9 616.6 L618.4 630.7 L619.7 607.2 L621.3 598.7 L622.9 632.6 L624.8 593.1 L625.8 574.3 L626.5 590 L627.8 587.5 L633.5 563.9 L634.8 576.2 L636.1 541.4 L637.6 565.8 L641.8 527.3 L643.3 535.7 L644.8 532.9 L646.1 550.8 L649.3 517.9 L651.7 528.2 L653.6 520.7 L657 549 L658 546.3 L660.2 561.3 L664 582.2 L667 553.3 L669.3 572.6 L671.5 595.1 L673.1 581.2 L674.1 586.5 L675.8 579.5 L677.4 583.3 L680 600.5 L681.8 569.5 L686 591.3 L689.2 555.3 L691.9 573.2 L693.7 533.5 L695.2 527.7 L696.4 533.2 L698.3 514.2 L700.7 520.8 L702 518.9 L703.9 497.8 L706.2 521.7 L707.7 552.3 L709.6 556.9 L711.8 554.6 L714.1 558 L716.9 577.4 L718.7 575.1 L719.8 556.9 L721.4 571.7 L722.8 572.9 L726 537.5 L727.8 543.2 L729.6 538.6 L732.8 480.5 L735.8 495.3 L737.4 487.3 L739.2 486.2 L740.4 479.3 L741.5 490.7 L743.3 457.6 L745.6 493 L747.9 497.6 L749.5 498.7 L753.5 430.5 L755.1 412.8 L756.6 427.9 L757.9 396.9 L759.8 388.4 L760.9 404.4 L762.6 395 L764.1 396.9 L766.9 410 L768.2 387.5 L769.7 395 L771.3 375.2 L772.6 383.7 L773.9 377.1 L775.4 382.8 L777.6 397.8 L779.2 400.6 L782.9 395 L784.4 413.8 L785.7 400.6 L788.6 419.4 L791.4 402.5 L792.9 404.4 L795.1 358.3 L798 330.1 L801.7 355.5 L803 355.5 L804.9 334.8 L806.7 340.5 L809.4 321.4 L812.5 340.5 L815.3 296.5 L816.8 307.2 L819.4 264.2 L821.1 270.6 L822.2 269.5 L824.4 243.8 L825.9 259.9 L828.7 211.5 L830.2 222.3 L832.5 204 L834.7 229.8 L836.2 236.2 L840.5 219 L843.7 241.6 L844.8 235.2 L846.3 245.5 L849.1 220.1 L850.6 235.2 L852.5 221.5 L853.5 223.1 L854.5 191.6 L856.5 171.5 L858.1 172.3 L859.7 194.8 L861 203.7 L862.6 194.8 L865.3 188.4 L866.6 162.6 L867.7 155.3 L869.4 179.5 L870.5 176.3 L872.6 198.1 L874.5 185.2 L876.6 180.3 L878.5 167.4 L879.8 197.3 L881.1 181.9 L883.1 180.3 L883.4 207.7 L885.8 240 L888.7 219.8 L890.3 241.6 L892.7 236.8 L894.8 249.7 L896.8 242.4 L898 240 L900.3 206.1 L901.9 214.2 L903.7 201.3" fill="none" stroke="#eb4d5c" stroke-width="1.05" stroke-opacity="0.85" stroke-linejoin="round" clip-path="url(#dn)"/>
<line x1="947" x2="947" y1="107" y2="682" stroke="#555" stroke-width="1.2"/>
<line x1="4" x2="947.5" y1="681.8" y2="681.8" stroke="#555" stroke-width="1.2"/>
<line x1="947" x2="952" y1="164.35" y2="164.35" stroke="#555" stroke-width="1.2"/>
<text x="956.69" y="171.15" font-family="Liberation Sans" font-size="16" font-weight="normal" fill="#595959" textLength="58.12" lengthAdjust="spacingAndGlyphs" >1.20000</text>
<line x1="947" x2="952" y1="222.88" y2="222.88" stroke="#555" stroke-width="1.2"/>
<text x="956.69" y="229.68" font-family="Liberation Sans" font-size="16" font-weight="normal" fill="#595959" textLength="58.12" lengthAdjust="spacingAndGlyphs" >1.18000</text>
<line x1="947" x2="952" y1="281.41" y2="281.41" stroke="#555" stroke-width="1.2"/>
<text x="956.69" y="288.21" font-family="Liberation Sans" font-size="16" font-weight="normal" fill="#595959" textLength="58.12" lengthAdjust="spacingAndGlyphs" >1.16000</text>
<line x1="947" x2="952" y1="339.94" y2="339.94" stroke="#555" stroke-width="1.2"/>
<text x="956.69" y="346.74" font-family="Liberation Sans" font-size="16" font-weight="normal" fill="#595959" textLength="58.12" lengthAdjust="spacingAndGlyphs" >1.14000</text>
<line x1="947" x2="952" y1="398.47" y2="398.47" stroke="#555" stroke-width="1.2"/>
<text x="956.69" y="405.27" font-family="Liberation Sans" font-size="16" font-weight="normal" fill="#595959" textLength="58.12" lengthAdjust="spacingAndGlyphs" >1.12000</text>
<line x1="947" x2="952" y1="457.00" y2="457.00" stroke="#555" stroke-width="1.2"/>
<text x="956.69" y="463.8" font-family="Liberation Sans" font-size="16" font-weight="normal" fill="#595959" textLength="58.12" lengthAdjust="spacingAndGlyphs" >1.10000</text>
<line x1="947" x2="952" y1="515.53" y2="515.53" stroke="#555" stroke-width="1.2"/>
<text x="956.69" y="522.33" font-family="Liberation Sans" font-size="16" font-weight="normal" fill="#595959" textLength="58.12" lengthAdjust="spacingAndGlyphs" >1.08000</text>
<line x1="947" x2="952" y1="574.06" y2="574.06" stroke="#555" stroke-width="1.2"/>
<text x="956.69" y="580.86" font-family="Liberation Sans" font-size="16" font-weight="normal" fill="#595959" textLength="58.12" lengthAdjust="spacingAndGlyphs" >1.06000</text>
<line x1="947" x2="952" y1="632.59" y2="632.59" stroke="#555" stroke-width="1.2"/>
<text x="956.69" y="639.39" font-family="Liberation Sans" font-size="16" font-weight="normal" fill="#595959" textLength="58.12" lengthAdjust="spacingAndGlyphs" >1.04000</text>
<line x1="23.9" x2="23.9" y1="682" y2="686.5" stroke="#555" stroke-width="1.2"/>
<text x="7.44" y="702.9" font-family="Liberation Sans" font-size="16" font-weight="normal" fill="#595959" textLength="31.00" lengthAdjust="spacingAndGlyphs" >May</text>
<line x1="144.9" x2="144.9" y1="682" y2="686.5" stroke="#555" stroke-width="1.2"/>
<text x="129.66" y="702.9" font-family="Liberation Sans" font-size="16" font-weight="normal" fill="#595959" textLength="29.18" lengthAdjust="spacingAndGlyphs" >Sep</text>
<line x1="265.3" x2="265.3" y1="682" y2="686.5" stroke="#555" stroke-width="1.2"/>
<text x="246.43" y="702.9" font-family="Liberation Sans" font-size="16" font-weight="bold" fill="#595959" textLength="36.13" lengthAdjust="spacingAndGlyphs" >2016</text>
<line x1="382.9" x2="382.9" y1="682" y2="686.5" stroke="#555" stroke-width="1.2"/>
<text x="366.44" y="702.9" font-family="Liberation Sans" font-size="16" font-weight="normal" fill="#595959" textLength="31.00" lengthAdjust="spacingAndGlyphs" >May</text>
<line x1="504.4" x2="504.4" y1="682" y2="686.5" stroke="#555" stroke-width="1.2"/>
<text x="489.16" y="702.9" font-family="Liberation Sans" font-size="16" font-weight="normal" fill="#595959" textLength="29.18" lengthAdjust="spacingAndGlyphs" >Sep</text>
<line x1="623.7" x2="623.7" y1="682" y2="686.5" stroke="#555" stroke-width="1.2"/>
<text x="604.83" y="702.9" font-family="Liberation Sans" font-size="16" font-weight="bold" fill="#595959" textLength="36.11" lengthAdjust="spacingAndGlyphs" >2017</text>
<line x1="739.7" x2="739.7" y1="682" y2="686.5" stroke="#555" stroke-width="1.2"/>
<text x="723.24" y="702.9" font-family="Liberation Sans" font-size="16" font-weight="normal" fill="#595959" textLength="31.00" lengthAdjust="spacingAndGlyphs" >May</text>
<line x1="861.5" x2="861.5" y1="682" y2="686.5" stroke="#555" stroke-width="1.2"/>
<text x="846.26" y="702.9" font-family="Liberation Sans" font-size="16" font-weight="normal" fill="#595959" textLength="29.18" lengthAdjust="spacingAndGlyphs" >Sep</text>
<rect x="946.5" y="190.2" width="74.5" height="23.5" fill="#53b987"/>
<line x1="947" x2="950.7" y1="201.5" y2="201.5" stroke="#c9eadb" stroke-width="1.2"/>
<text x="956.69" y="207.8" font-family="Liberation Sans" font-size="16" font-weight="normal" fill="#fff" textLength="58.53" lengthAdjust="spacingAndGlyphs" >1.18730</text>
<text x="39.29" y="145.3" font-family="Liberation Sans" font-size="24.5" font-weight="normal" fill="#555" textLength="323.79" lengthAdjust="spacingAndGlyphs" >Euro Fx/U.S. Dollar, D, FXCM</text>
<text x="450.51" y="145.3" font-family="Liberation Sans" font-size="22" font-weight="normal" fill="#555" textLength="15.33" lengthAdjust="spacingAndGlyphs" >O</text>
<text x="468.43" y="145.3" font-family="Liberation Sans" font-size="22" font-weight="normal" fill="#53b987" textLength="75.91" lengthAdjust="spacingAndGlyphs" >1.18296</text>
<text x="557.49" y="145.3" font-family="Liberation Sans" font-size="22" font-weight="normal" fill="#555" textLength="16.38" lengthAdjust="spacingAndGlyphs" >H</text>
<text x="575.42" y="145.3" font-family="Liberation Sans" font-size="22" font-weight="normal" fill="#53b987" textLength="76.32" lengthAdjust="spacingAndGlyphs" >1.18730</text>
<text x="665.85" y="145.3" font-family="Liberation Sans" font-size="22" font-weight="normal" fill="#555" textLength="10.75" lengthAdjust="spacingAndGlyphs" >L</text>
<text x="680.65" y="145.3" font-family="Liberation Sans" font-size="22" font-weight="normal" fill="#53b987" textLength="74.78" lengthAdjust="spacingAndGlyphs" >1.18053</text>
<text x="770.13" y="145.3" font-family="Liberation Sans" font-size="22" font-weight="normal" fill="#555" textLength="12.51" lengthAdjust="spacingAndGlyphs" >C</text>
<text x="785.51" y="145.3" font-family="Liberation Sans" font-size="22" font-weight="normal" fill="#53b987" textLength="76.42" lengthAdjust="spacingAndGlyphs" >1.18730</text>
<text x="14.24" y="32.25" font-family="Liberation Sans" font-size="20" font-weight="normal" fill="#454548" textLength="71.57" lengthAdjust="spacingAndGlyphs" stroke="#454548" stroke-width="0.4">EURUSD</text>
<text x="167.81" y="30.6" font-family="Liberation Sans" font-size="16" font-weight="normal" fill="#333" textLength="20.25" lengthAdjust="spacingAndGlyphs" stroke="#333" stroke-width="0.25">1D</text>
<text x="22.46" y="730.6" font-family="Liberation Sans" font-size="16" font-weight="normal" fill="#8b8f96" textLength="86.05" lengthAdjust="spacingAndGlyphs" stroke="#8b8f96" stroke-width="0.5">Date Range</text>
<text x="583.34" y="730.6" font-family="Liberation Sans" font-size="16" font-weight="normal" fill="#8b8f96" textLength="116.21" lengthAdjust="spacingAndGlyphs" stroke="#8b8f96" stroke-width="0.5">12:43:16 (UTC)</text>
<text x="736.55" y="730.6" font-family="Liberation Sans" font-size="16" font-weight="normal" fill="#8b8f96" textLength="25.02" lengthAdjust="spacingAndGlyphs" stroke="#8b8f96" stroke-width="0.5">ext</text>
<text x="799.01" y="730.6" font-family="Liberation Sans" font-size="16" font-weight="normal" fill="#8b8f96" textLength="12.47" lengthAdjust="spacingAndGlyphs" stroke="#8b8f96" stroke-width="0.5">%</text>
<text x="849.18" y="730.6" font-family="Liberation Sans" font-size="16" font-weight="normal" fill="#8b8f96" textLength="22.93" lengthAdjust="spacingAndGlyphs" stroke="#8b8f96" stroke-width="0.5">log</text>
<text x="909.19" y="730.6" font-family="Liberation Sans" font-size="16" font-weight="normal" fill="#4db3e4" textLength="34.75" lengthAdjust="spacingAndGlyphs" stroke="#4db3e4" stroke-width="0.5">auto</text>
</svg>
<svg width="1024" height="745" style="position:absolute;left:0;top:0;pointer-events:none">
<g stroke="#7a7a7a" stroke-width="1.7" fill="none"><line x1="301.8" y1="12" x2="301.8" y2="20"/><line x1="301.8" y1="35" x2="301.8" y2="40.2"/><rect x="299" y="20.6" width="5.7" height="14.4" fill="#fff"/><line x1="312.1" y1="11" x2="312.1" y2="16"/><line x1="312.1" y1="32" x2="312.1" y2="40.2"/><rect x="308.4" y="15.2" width="7.4" height="17.7" fill="#7a7a7a" stroke="none"/><line x1="365" y1="12.2" x2="365" y2="20.5"/><line x1="365" y1="35" x2="365" y2="40.2"/><rect x="362.2" y="20.9" width="5.7" height="14.1"/><line x1="375.4" y1="11" x2="375.4" y2="16"/><line x1="375.4" y1="32" x2="375.4" y2="40.2"/><rect x="372.8" y="16.3" width="5.2" height="15.6"/></g>
<g stroke="#555" stroke-width="1.8" fill="none" stroke-linecap="butt" stroke-linejoin="miter"><polyline points="420,31.7 422.3,28.7"/><polyline points="424.3,23.3 427.3,18.3 428.5,20.7 431.3,15.2 435.5,23.5"/><polyline points="438,28.9 440.8,34 443.6,28.9"/><polyline points="446.2,23.5 447.6,20.5"/></g><line x1="419.6" y1="26.3" x2="448.5" y2="26.3" stroke="#555" stroke-width="1.3" stroke-dasharray="1.4 1.4"/>
<rect x="528.8" y="14.100000000000001" width="4.4" height="12.2" fill="#7a7a7a" transform="rotate(0.0 531 26.3)"/><rect x="528.8" y="14.100000000000001" width="4.4" height="12.2" fill="#7a7a7a" transform="rotate(45.0 531 26.3)"/><rect x="528.8" y="14.100000000000001" width="4.4" height="12.2" fill="#7a7a7a" transform="rotate(90.0 531 26.3)"/><rect x="528.8" y="14.100000000000001" width="4.4" height="12.2" fill="#7a7a7a" transform="rotate(135.0 531 26.3)"/><rect x="528.8" y="14.100000000000001" width="4.4" height="12.2" fill="#7a7a7a" transform="rotate(180.0 531 26.3)"/><rect x="528.8" y="14.100000000000001" width="4.4" height="12.2" fill="#7a7a7a" transform="rotate(225.0 531 26.3)"/><rect x="528.8" y="14.100000000000001" width="4.4" height="12.2" fill="#7a7a7a" transform="rotate(270.0 531 26.3)"/><rect x="528.8" y="14.100000000000001" width="4.4" height="12.2" fill="#7a7a7a" transform="rotate(315.0 531 26.3)"/><circle cx="531" cy="26.3" r="8.9" fill="#7a7a7a"/><circle cx="531" cy="26.3" r="5.05" fill="#fff"/>
<g fill="#7a7a7a" stroke="none"><rect x="586" y="18.2" width="21.8" height="1.8"/><polygon points="594.5,18.4 597,16 599.5,18.4"/><path d="M584.8,31.3 H594.8 A5,4.6 0 0 1 584.8,31.3 Z"/><path d="M599.6,31.3 H609.6 A5,4.6 0 0 1 599.6,31.3 Z"/></g><g stroke="#7a7a7a" stroke-width="1.3" fill="none"><polyline points="585.5,31.5 589.8,20 594.2,31.5"/><polyline points="600.3,31.5 604.6,20 609,31.5"/></g>
<rect x="653.8000000000001" y="32" width="2.8" height="5" fill="#7a7a7a"/>
<rect x="658.1" y="28.8" width="2.8" height="8.2" fill="#7a7a7a"/>
<rect x="662.6" y="32" width="2.8" height="5" fill="#7a7a7a"/>
<rect x="667.0" y="26" width="2.8" height="11" fill="#7a7a7a"/>
<rect x="671.3000000000001" y="30" width="2.8" height="7" fill="#7a7a7a"/>
<rect x="676.0" y="23" width="2.8" height="14" fill="#7a7a7a"/>
<polyline points="655.2,25.7 659.5,22 664,26 668.4,19.3 672.7,23.8 677.4,16.7" fill="none" stroke="#7a7a7a" stroke-width="1.6"/>
<circle cx="655.2" cy="25.7" r="1.3" fill="#7a7a7a"/>
<circle cx="659.5" cy="22" r="1.3" fill="#7a7a7a"/>
<circle cx="664" cy="26" r="1.3" fill="#7a7a7a"/>
<circle cx="668.4" cy="19.3" r="1.3" fill="#7a7a7a"/>
<circle cx="672.7" cy="23.8" r="1.3" fill="#7a7a7a"/>
<circle cx="677.4" cy="16.7" r="1.3" fill="#7a7a7a"/>
<polygon points="713.20,16.30 715.49,22.44 722.04,22.73 716.91,26.81 718.67,33.12 713.20,29.50 707.73,33.12 709.49,26.81 704.36,22.73 710.91,22.44" fill="#7a7a7a"/>
<g transform="translate(0 0)"><path d="M904.7,36.5 L897.8,36.5 A6.2,6.2 0 0 1 899.6,23.9 A9.8,9.8 0 0 1 917,18.9 A8.2,8.2 0 0 1 925.6,27.8 A4.5,4.5 0 0 1 925.4,36.5 L917,36.5" fill="none" stroke="#808080" stroke-width="1.6"/></g>
<g transform="translate(75 0)"><path d="M904.7,36.5 L897.8,36.5 A6.2,6.2 0 0 1 899.6,23.9 A9.8,9.8 0 0 1 917,18.9 A8.2,8.2 0 0 1 925.6,27.8 A4.5,4.5 0 0 1 925.4,36.5 L917,36.5" fill="none" stroke="#808080" stroke-width="1.6"/></g>
<path d="M907.5,25.1 H914 V32.8 H917.3 L910.8,39 L904.2,32.8 H907.5 Z" fill="#fff" stroke="#808080" stroke-width="1.5"/>
<path d="M985.8,23 L994,31.2 H990 V38.8 H981.3 V31.2 H977.6 Z" fill="#808080"/>
<g stroke="#7a7a7a" fill="none" stroke-width="2.3"><path d="M38.4,77.0 A8.6,8.6 0 1 0 32.4,86.6"/><polyline points="30,72.8 30,78.5 27.4,81.2" stroke-width="1.8"/><line x1="42.3" y1="80.2" x2="42.3" y2="91.5" stroke-width="2.4"/><line x1="36.6" y1="85.8" x2="48" y2="85.8" stroke-width="2.4"/><line x1="24.5" y1="84.8" x2="21.5" y2="87.8" stroke-width="2.3"/></g><path d="M19.6,70.8 A4.4,4.4 0 0 1 26.6,65.4 Z" fill="#7a7a7a"/><path d="M33.3,65.4 A4.4,4.4 0 0 1 40.4,70.8 Z" fill="#7a7a7a"/>
<circle cx="96.25" cy="75" r="7.2" fill="none" stroke="#7a7a7a" stroke-width="1.7"/><path d="M92.8,82.5 H99.8 V87.5 A2.3,2.3 0 0 1 97.5,89.8 H95.1 A2.3,2.3 0 0 1 92.8,87.5 Z" fill="#7a7a7a"/><g stroke="#7a7a7a" stroke-width="1.5"><line x1="96.25" y1="62" x2="96.25" y2="64.8"/><line x1="83.3" y1="75" x2="86.2" y2="75"/><line x1="106.3" y1="75" x2="109.2" y2="75"/><line x1="87" y1="65.8" x2="89" y2="67.8"/><line x1="105.5" y1="65.8" x2="103.5" y2="67.8"/><line x1="87" y1="84.2" x2="89" y2="82.2"/><line x1="105.5" y1="84.2" x2="103.5" y2="82.2"/></g>
<path d="M168.3,77.3 L178.3,70.6 V74 C183.8,74.2 188.2,78.5 188.8,86.2 C186.2,82.5 182.6,80.6 178.3,80.6 V83.8 Z" fill="#7a7a7a"/>
<path d="M168.3,77.3 L178.3,70.6 V74 C183.8,74.2 188.2,78.5 188.8,86.2 C186.2,82.5 182.6,80.6 178.3,80.6 V83.8 Z" fill="#a0a0a0" transform="translate(395 0) scale(-1 1)"/>
<g fill="#7a7a7a">
<g transform="rotate(0 267.4 77.1)"><polygon points="254.1,64.1 262.7,64.1 254.1,72.7"/><polygon points="259.4,67.2 264.3,72.1 262.1,74.3 257.2,69.4"/></g>
<g transform="rotate(90 267.4 77.1)"><polygon points="254.1,64.1 262.7,64.1 254.1,72.7"/><polygon points="259.4,67.2 264.3,72.1 262.1,74.3 257.2,69.4"/></g>
<g transform="rotate(180 267.4 77.1)"><polygon points="254.1,64.1 262.7,64.1 254.1,72.7"/><polygon points="259.4,67.2 264.3,72.1 262.1,74.3 257.2,69.4"/></g>
<g transform="rotate(270 267.4 77.1)"><polygon points="254.1,64.1 262.7,64.1 254.1,72.7"/><polygon points="259.4,67.2 264.3,72.1 262.1,74.3 257.2,69.4"/></g>
</g>
<rect x="394" y="128" width="20" height="20" fill="#d6d6d8"/><rect x="419" y="128" width="20" height="20" fill="#d6d6d8"/>
<path d="M396.6,138 C399,130.6 409,130.6 411.4,138 C409,145.4 399,145.4 396.6,138 Z" fill="#fff" stroke="#fff" stroke-width="1.2"/>
<circle cx="404" cy="138" r="2.7" fill="none" stroke="#d0d0d3" stroke-width="1.8"/>
<rect x="427.4" y="130.2" width="3.0" height="7.8" fill="#fff" transform="rotate(0.0 428.9 138)"/><rect x="427.4" y="130.2" width="3.0" height="7.8" fill="#fff" transform="rotate(45.0 428.9 138)"/><rect x="427.4" y="130.2" width="3.0" height="7.8" fill="#fff" transform="rotate(90.0 428.9 138)"/><rect x="427.4" y="130.2" width="3.0" height="7.8" fill="#fff" transform="rotate(135.0 428.9 138)"/><rect x="427.4" y="130.2" width="3.0" height="7.8" fill="#fff" transform="rotate(180.0 428.9 138)"/><rect x="427.4" y="130.2" width="3.0" height="7.8" fill="#fff" transform="rotate(225.0 428.9 138)"/><rect x="427.4" y="130.2" width="3.0" height="7.8" fill="#fff" transform="rotate(270.0 428.9 138)"/><rect x="427.4" y="130.2" width="3.0" height="7.8" fill="#fff" transform="rotate(315.0 428.9 138)"/><circle cx="428.9" cy="138" r="5.6" fill="#fff"/><circle cx="428.9" cy="138" r="2.8" fill="#d6d6d8"/>
<polygon points="991.60,716.40 993.82,719.64 997.68,718.92 996.96,722.78 1000.20,725.00 996.96,727.22 997.68,731.08 993.82,730.36 991.60,733.60 989.38,730.36 985.52,731.08 986.24,727.22 983.00,725.00 986.24,722.78 985.52,718.92 989.38,719.64" fill="#8a8a8a"/><circle cx="991.6" cy="725" r="4.1" fill="#e2e3e8"/>
</svg>
<div style="position:absolute;left:12px;top:125.5px;width:19px;height:19px;box-sizing:border-box;border:1.3px solid #7a7a7a;border-radius:2px"></div>
<div style="position:absolute;left:15px;top:134.5px;width:13px;height:1.3px;background:#7a7a7a"></div>
<div style="position:absolute;left:368px;top:133px;width:0;height:0;border-left:5px solid transparent;border-right:5px solid transparent;border-top:6px solid #c3c5cc"></div>
<div style="position:absolute;left:390px;top:51px;width:88px;height:42px;background:#fff"></div>
<div style="position:absolute;left:391px;top:52px;width:86px;height:40px;background:#242a3d"></div>
<div style="position:absolute;left:423.6px;top:41.6px;width:0;height:0;border-left:10.4px solid transparent;border-right:10.4px solid transparent;border-bottom:10.4px solid #fff"></div>
<div style="position:absolute;left:391px;top:52px;width:86px;height:40px;background:#242a3d"></div>
<div style="position:absolute;left:425px;top:43px;width:0;height:0;border-left:9px solid transparent;border-right:9px solid transparent;border-bottom:9px solid #242a3d"></div>
<svg width="1024" height="745" style="position:absolute;left:0;top:0;pointer-events:none"><text x="403.73" y="77.8" font-family="Liberation Sans" font-size="16" font-weight="normal" fill="#fff" textLength="60.80" lengthAdjust="spacingAndGlyphs" >Baseline</text></svg>
</body></html>
